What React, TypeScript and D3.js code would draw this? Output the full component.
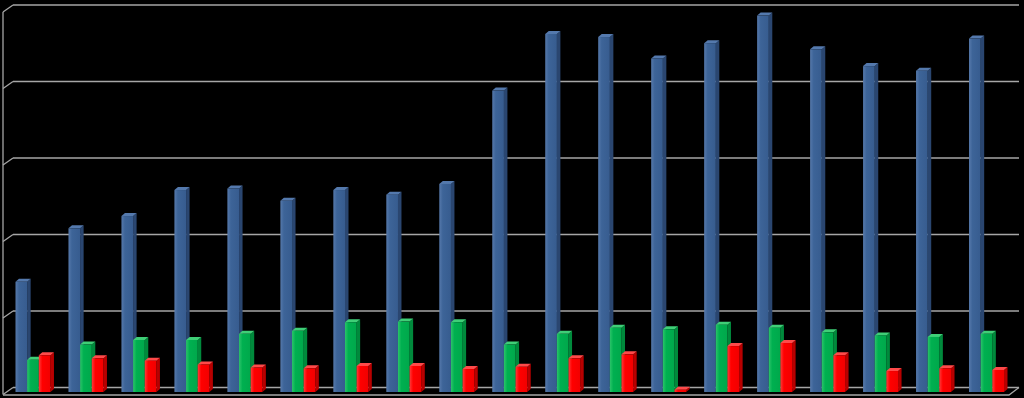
import React, { useEffect } from 'react';
import * as d3 from 'd3';

// values (no axis labels in the original, units arbitrary)
const groups = ['1', '2', '3', '4', '5', '6', '7', '8', '9', '10', '11', '12', '13', '14', '15', '16', '17', '18', '19'];
const seriesNames = ['blue', 'green', 'red'];
const blueValues = [72, 107, 115, 132, 133, 125, 132, 129, 136, 197, 234, 232, 218, 228, 246, 224, 213, 210, 231];
const greenValues = [21, 31, 34, 34, 38, 40, 45.6, 46, 45.6, 31, 38, 42, 41, 44, 42, 39, 37, 36, 38];
const redValues = [24, 22, 20.5, 18, 16, 15.5, 17, 17, 15, 16.5, 22, 24.6, 1.5, 30, 32, 24, 13.7, 15.5, 14.4];
const gridTicks = [0, 50, 100, 150, 200, 250];

const W = 1024;
const H = 398;
const base = 392;      // bottom of the bar front faces
const depthX = 10;     // wall depth
const depthY = 7;
const barDx = 3.5;     // bar side / top depth
const barDy = 3;

const palette = {
  blue: { front: 'url(#gBlue)', side: '#2a4670', top: '#5479ad' },
  green: { front: 'url(#gGreen)', side: '#008a3c', top: '#3fcf77' },
  red: { front: 'url(#gRed)', side: '#b80000', top: '#ff4a4a' },
};

const App = () => {
  useEffect(() => {
    document.body.style.margin = '0';
    document.body.style.background = '#000';
  }, []);

  const rows = groups.map((g, i) => ({
    g,
    blue: blueValues[i],
    green: greenValues[i],
    red: redValues[i],
  }));

  const x = d3.scaleBand().domain(groups).range([6.5, 1013]).paddingInner(0.34).paddingOuter(0.17);
  const xs = d3.scaleBand().domain(seriesNames).range([0, x.bandwidth()]);
  const y = d3.scaleLinear().domain([0, 250]).range([base, base - 250 * 1.53]);
  // back wall is shifted up/right by the depth
  const yBack = (v) => y(v) - 4.5;
  const wallLeft = 13;
  const wallRight = 1019;
  const gridColor = '#a6a6a6';

  const bars = [];
  rows.forEach((d) => {
    seriesNames.forEach((s) => {
      const v = d[s];
      const bx = x(d.g) + xs(s);
      const bw = xs.bandwidth();
      const top = y(v);
      const c = palette[s];
      bars.push(
        <g key={d.g + s}>
          <polygon
            points={`${bx + bw},${top} ${bx + bw + barDx},${top - barDy} ${bx + bw + barDx},${base - barDy} ${bx + bw},${base}`}
            fill={c.side}
          />
          <polygon
            points={`${bx},${top} ${bx + barDx},${top - barDy} ${bx + bw + barDx},${top - barDy} ${bx + bw},${top}`}
            fill={c.top}
          />
          <rect x={bx} y={top} width={bw} height={base - top} fill={c.front} />
        </g>
      );
    });
  });

  return (
    <svg width={W} height={H} style={{ display: 'block', background: '#000' }}>
      <defs>
        <linearGradient id="gBlue" x1="0" x2="1" y1="0" y2="0">
          <stop offset="0" stopColor="#5679ab" />
          <stop offset="0.3" stopColor="#3d6498" />
          <stop offset="1" stopColor="#375c8f" />
        </linearGradient>
        <linearGradient id="gGreen" x1="0" x2="1" y1="0" y2="0">
          <stop offset="0" stopColor="#2cc46a" />
          <stop offset="0.3" stopColor="#00b050" />
          <stop offset="1" stopColor="#00a84b" />
        </linearGradient>
        <linearGradient id="gRed" x1="0" x2="1" y1="0" y2="0">
          <stop offset="0" stopColor="#ff3a3a" />
          <stop offset="0.3" stopColor="#ff0000" />
          <stop offset="1" stopColor="#f20000" />
        </linearGradient>
      </defs>
      <rect width={W} height={H} fill="#000" />
      {/* back wall grid + left wall diagonals */}
      {gridTicks.map((t) => (
        <g key={t} stroke={gridColor} strokeWidth={1.3} fill="none">
          <line x1={wallLeft} x2={wallRight} y1={yBack(t)} y2={yBack(t)} />
          <line x1={wallLeft - depthX} x2={wallLeft} y1={yBack(t) + depthY} y2={yBack(t)} />
        </g>
      ))}
      <line
        x1={wallLeft - depthX}
        x2={wallLeft - depthX}
        y1={yBack(250) + depthY}
        y2={yBack(0) + depthY}
        stroke={gridColor}
        strokeWidth={1.3}
      />
      {/* floor front edge */}
      <polyline
        points={`${wallLeft - depthX},${yBack(0) + depthY + 0.5} ${wallRight - depthX},${yBack(0) + depthY + 0.5} ${wallRight},${yBack(0)}`}
        stroke={gridColor}
        strokeWidth={1.3}
        fill="none"
      />
      {bars}
    </svg>
  );
};

export default App;
